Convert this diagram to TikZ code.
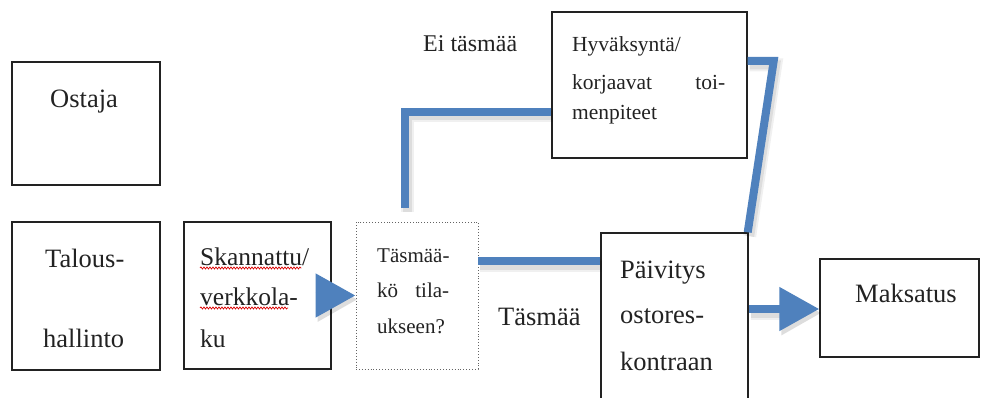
\documentclass[tikz,border=0pt]{standalone}
\usepackage{fontspec}
\setmainfont{Liberation Serif}
\usetikzlibrary{arrows.meta,decorations.pathmorphing}
\definecolor{officeblue}{RGB}{79,129,189}
\definecolor{ink}{RGB}{34,34,34}
\tikzset{
  box/.style={draw=ink, line width=1.4pt, inner sep=0pt},
  dotbox/.style={draw=ink!70, line width=0.9pt, dotted, inner sep=0pt},
  txt/.style={anchor=base west, inner sep=0pt, text=ink},
  conn/.style={draw=officeblue, line width=8pt, line join=miter,
     preaction={draw=black, opacity=0.06, line width=13pt, transform canvas={shift={(2pt,-4pt)}}},
     preaction={draw=black, opacity=0.08, line width=9pt, transform canvas={shift={(2pt,-4pt)}}}},
  arr/.style={conn, -{Triangle[length=40pt,width=42pt]}},
  wavy/.style={draw=red!85!black, line width=0.7pt, decorate,
     decoration={snake, amplitude=1pt, segment length=3pt}}
}
\newcommand{\fsz}[1]{\fontsize{#1}{#1}\selectfont}
\begin{document}
\begin{tikzpicture}[x=1pt,y=-1pt]
\useasboundingbox (0,0) rectangle (982,398);
% boxes
\node[box, minimum width=148pt, minimum height=123pt] (ostaja) at (86,123.5) {};
\node[box, minimum width=148pt, minimum height=148pt] (talous) at (86,296) {};
\node[box, minimum width=147pt, minimum height=147pt] (skan) at (257.5,295.5) {};
\node[dotbox, minimum width=122pt, minimum height=147pt] (tas) at (417,295.5) {};
\node[box, minimum width=195pt, minimum height=146pt] (hyv) at (649.5,85) {};
\node[box, minimum width=147pt, minimum height=177pt] (paiv) at (674.5,321.5) {};
\node[box, minimum width=159pt, minimum height=98pt] (maks) at (899.5,308) {};
% texts
\node[txt] (t1) at (50,108) {\fsz{26.5}Ostaja};
\node[txt] (t2) at (45,267) {\fsz{26.5}Talous-};
\node[txt] (t3) at (43,347) {\fsz{26.5}hallinto};
\node[txt] (t4) at (200,265) {\fsz{25.5}Skannattu/};
\node[txt] (t5) at (200,305) {\fsz{25.5}verkkola-};
\node[txt] (t6) at (200,347) {\fsz{25.5}ku};
\node[txt] (t7) at (377,262) {\fsz{21}Täsmää-};
\node[txt] (t8) at (377,297) {\fsz{21}\makebox[72pt][s]{kö\hfill tila-}};
\node[txt] (t9) at (377,333) {\fsz{21}ukseen?};
\node[txt] (t10) at (572,52) {\fsz{21.5}Hyväksyntä/};
\node[txt] (t11) at (572,90) {\fsz{21.5}\makebox[153pt][s]{korjaavat\hfill toi-}};
\node[txt] (t12) at (572,120) {\fsz{21.5}menpiteet};
\node[txt] (t13) at (423,52) {\fsz{24}Ei täsmää};
\node[txt] (t14) at (498,325) {\fsz{26.5}Täsmää};
\node[txt] (t15) at (620,278) {\fsz{26.5}Päivitys};
\node[txt] (t16) at (620,323) {\fsz{26.5}ostores-};
\node[txt] (t17) at (620,370) {\fsz{26.5}kontraan};
\node[txt] (t18) at (855,302) {\fsz{26.5}Maksatus};
% spell-check underlines
\draw[wavy] ([yshift=-3pt]t4.base west) -- ([xshift=-8pt,yshift=-3pt]t4.base east);
\draw[wavy] ([yshift=-3pt]t5.base west) -- ([xshift=-10pt,yshift=-3pt]t5.base east);
% connectors
\coordinate (c1) at ([yshift=34.5pt]tas.east);
\coordinate (c2) at ([xshift=-12pt,yshift=14pt]tas.north);
\coordinate (c3) at ([yshift=-27pt]hyv.west);
\coordinate (c4) at ([yshift=24pt]hyv.east);
\coordinate (c5) at ([xshift=26pt]c4);
\coordinate (c6) at ([yshift=12.5pt]paiv.east);
\draw[conn] (c1) -- (c1 -| paiv.west);
\draw[conn] (c2) |- (c3);
\draw[conn] (c4) -- (c5) -- ([xshift=-1pt]paiv.north east);
\draw[arr] ([xshift=-16pt]skan.east) -- (tas.west);
\draw[arr] (c6) -- (c6 -| maks.west);
\end{tikzpicture}
\end{document}
